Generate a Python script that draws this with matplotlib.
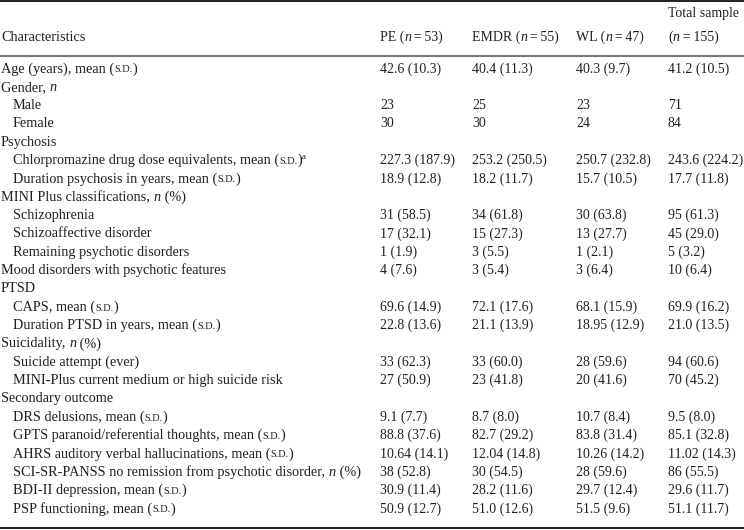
import re
import matplotlib
matplotlib.use("Agg")
import matplotlib.pyplot as plt
from matplotlib.font_manager import FontProperties

# markup: *n* = italic n, [sd] = small caps S.D., ^a = superscript a
row_labels = [
    "Age (years), mean ([sd])",
    "Gender, *n*",
    "Male",
    "Female",
    "Psychosis",
    "Chlorpromazine drug dose equivalents, mean ([sd])^a",
    "Duration psychosis in years, mean ([sd])",
    "MINI Plus classifications, *n* (%)",
    "Schizophrenia",
    "Schizoaffective disorder",
    "Remaining psychotic disorders",
    "Mood disorders with psychotic features",
    "PTSD",
    "CAPS, mean ([sd])",
    "Duration PTSD in years, mean ([sd])",
    "Suicidality, *n* (%)",
    "Suicide attempt (ever)",
    "MINI-Plus current medium or high suicide risk",
    "Secondary outcome",
    "DRS delusions, mean ([sd])",
    "GPTS paranoid/referential thoughts, mean ([sd])",
    "AHRS auditory verbal hallucinations, mean ([sd])",
    "SCI-SR-PANSS no remission from psychotic disorder, *n* (%)",
    "BDI-II depression, mean ([sd])",
    "PSP functioning, mean ([sd])",
]
row_indent = [0, 0, 1, 1, 0, 1, 1, 0, 1, 1, 1, 0, 0, 1, 1, 0, 1, 1, 0, 1, 1, 1, 1, 1, 1]

pe = ["42.6 (10.3)", "", "23", "30", "", "227.3 (187.9)", "18.9 (12.8)", "",
      "31 (58.5)", "17 (32.1)", "1 (1.9)", "4 (7.6)", "", "69.6 (14.9)", "22.8 (13.6)", "",
      "33 (62.3)", "27 (50.9)", "", "9.1 (7.7)", "88.8 (37.6)", "10.64 (14.1)", "38 (52.8)",
      "30.9 (11.4)", "50.9 (12.7)"]
emdr = ["40.4 (11.3)", "", "25", "30", "", "253.2 (250.5)", "18.2 (11.7)", "",
        "34 (61.8)", "15 (27.3)", "3 (5.5)", "3 (5.4)", "", "72.1 (17.6)", "21.1 (13.9)", "",
        "33 (60.0)", "23 (41.8)", "", "8.7 (8.0)", "82.7 (29.2)", "12.04 (14.8)", "30 (54.5)",
        "28.2 (11.6)", "51.0 (12.6)"]
wl = ["40.3 (9.7)", "", "23", "24", "", "250.7 (232.8)", "15.7 (10.5)", "",
      "30 (63.8)", "13 (27.7)", "1 (2.1)", "3 (6.4)", "", "68.1 (15.9)", "18.95 (12.9)", "",
      "28 (59.6)", "20 (41.6)", "", "10.7 (8.4)", "83.8 (31.4)", "10.26 (14.2)", "28 (59.6)",
      "29.7 (12.4)", "51.5 (9.6)"]
total = ["41.2 (10.5)", "", "71", "84", "", "243.6 (224.2)", "17.7 (11.8)", "",
         "95 (61.3)", "45 (29.0)", "5 (3.2)", "10 (6.4)", "", "69.9 (16.2)", "21.0 (13.5)", "",
         "94 (60.6)", "70 (45.2)", "", "9.5 (8.0)", "85.1 (32.8)", "11.02 (14.3)", "86 (55.5)",
         "29.6 (11.7)", "51.1 (11.7)"]

headers = ["PE (*n*\u2009=\u200953)", "EMDR (*n*\u2009=\u200955)", "WL (*n*\u2009=\u200947)"]

FONT = "Liberation Serif"
SIZE = 10
LAB_SIZE = 10.25
TXT = "#231f20"

fig = plt.figure(figsize=(7.44, 5.30), dpi=100)
ax = fig.add_axes([0, 0, 1, 1])
ax.set_xlim(0, 744)
ax.set_ylim(530, 0)
ax.axis("off")
renderer = fig.canvas.get_renderer()


def seg_width(s, fp):
    w1, _, _ = renderer.get_text_width_height_descent("|" + s + "|", fp, ismath=False)
    w0, _, _ = renderer.get_text_width_height_descent("||", fp, ismath=False)
    return w1 - w0


def draw_rich(x, y, text, size=SIZE):
    parts = re.split(r"(\*n\*|\[sd\]|\^a)", text)
    for p in parts:
        if not p:
            continue
        yy = y
        fs = size
        style = "normal"
        s = p
        if p == "*n*":
            s, style = "n", "italic"
        elif p == "[sd]":
            s, fs = "S.D.", size * 0.72
        elif p == "^a":
            s, fs = "a", size * 0.62
            yy = y - 5
        fp = FontProperties(family=FONT, size=fs, style=style)
        ax.text(x, yy, s, fontproperties=fp, color=TXT, va="baseline", ha="left")
        x += seg_width(s, fp)


col_x = [380, 472, 576, 668]
y0, dy = 72.5, 18.33

# header
draw_rich(1, 41, "Characteristics", LAB_SIZE)
for cx, h in zip(col_x[:3], headers):
    draw_rich(cx, 41, h)
draw_rich(col_x[3], 16.5, "Total sample")
draw_rich(col_x[3], 41, "(*n*\u2009=\u2009155)")

# rules
ax.plot([0, 744], [1, 1], color="#231f20", lw=1.4, solid_capstyle="butt")
ax.plot([0, 744], [55.5, 55.5], color="#77787b", lw=1.5, solid_capstyle="butt")
ax.plot([0, 744], [527.5, 527.5], color="#231f20", lw=1.4, solid_capstyle="butt")

# body
for i, lab in enumerate(row_labels):
    y = y0 + i * dy
    draw_rich(1 + 12 * row_indent[i], y, lab, LAB_SIZE)
    for cx, col in zip(col_x, [pe, emdr, wl, total]):
        if col[i]:
            draw_rich(cx, y, col[i])

fig.savefig("out.png", dpi=100, facecolor="white")
